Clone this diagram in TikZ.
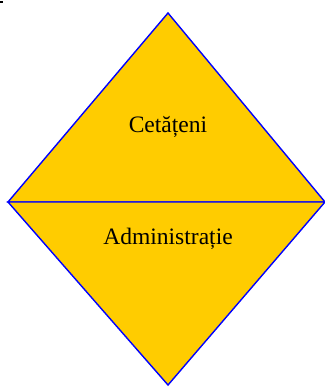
\documentclass[tikz,border=0pt]{standalone}
\usepackage{fontspec}
\setmainfont{Liberation Serif}
\usepackage{tikz}
\definecolor{zona}{HTML}{FFCC00}
\definecolor{margine}{HTML}{0000FF}
\tikzset{triunghi/.style={fill=zona,draw=margine,line width=0.8pt,line join=miter},
eticheta/.style={anchor=base,align=center,font=\fontsize{13.4}{16}\selectfont}}

\begin{document}
\begin{tikzpicture}
\useasboundingbox (0,0) rectangle (6.5,7.74);
\coordinate (sus) at (3.36,7.48);
\coordinate (st) at (0.16,3.7);
\coordinate (dr) at (6.5,3.7);
\coordinate (jos) at (3.36,0.04);
\fill[black] (0,7.72) rectangle (0.06,7.68);
\path [triunghi] (sus) -- (st) -- (dr) -- cycle;
\path [triunghi] (st) -- (dr) -- (jos) -- cycle;
\node[eticheta] (cet) at (3.36,5.08) {Cetățeni};
\node[eticheta] (adm) at (3.36,2.84) {Administrație};
\end{tikzpicture}
\end{document}
